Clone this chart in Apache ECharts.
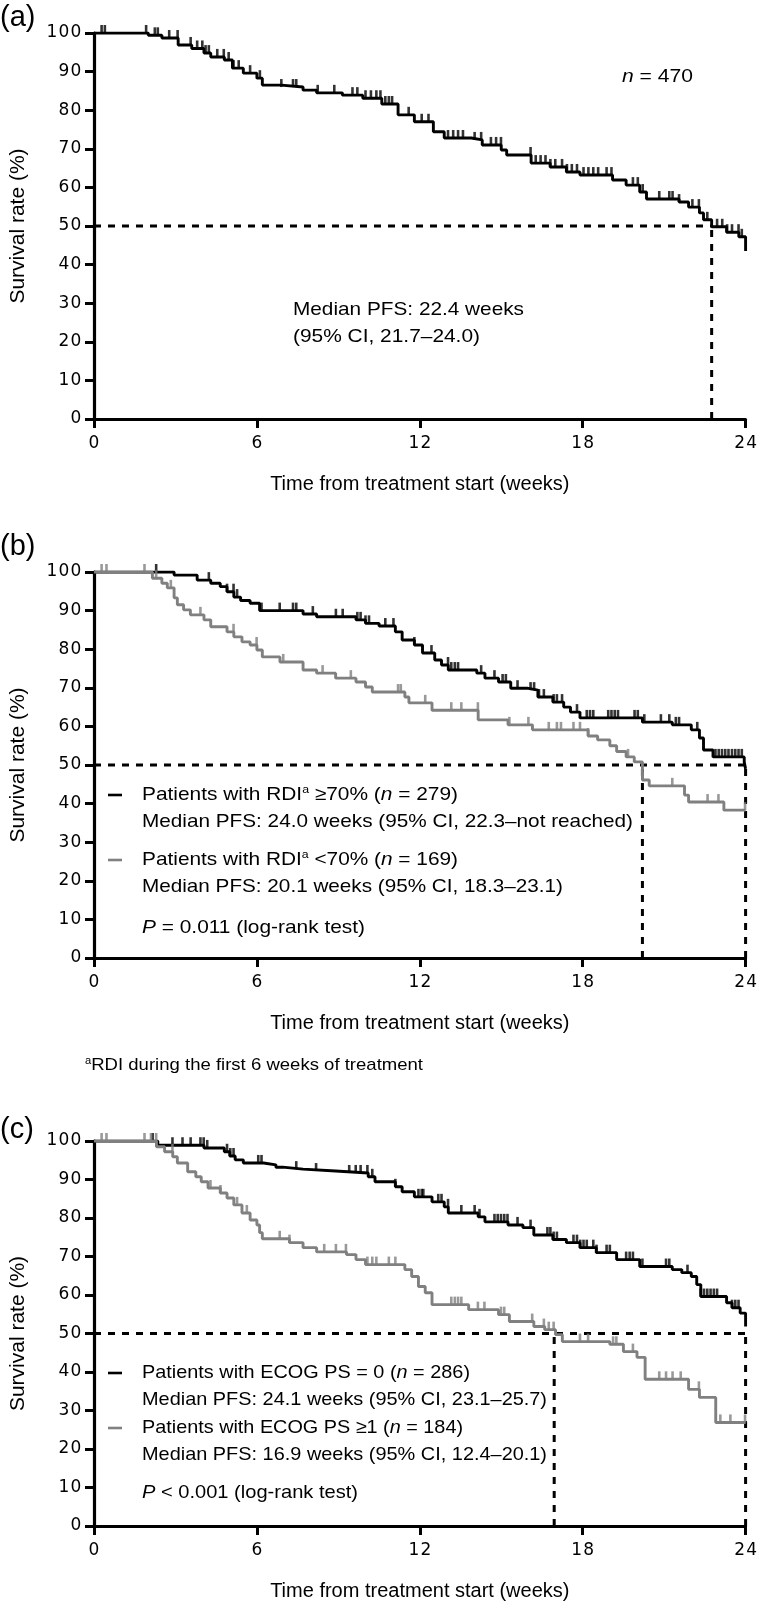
<!DOCTYPE html>
<html>
<head>
<meta charset="utf-8">
<script src="https://cdn.jsdelivr.net/npm/echarts@6/dist/echarts.min.js"></script>
<style>
html,body{margin:0;padding:0;background:#fff;}
#chart{width:760px;height:1602px;}
</style>
</head>
<body>
<div id="chart"></div>
<script>
// ---------- DATA ----------
const xTicks = [0, 6, 12, 18, 24];
const yTicks = [0, 10, 20, 30, 40, 50, 60, 70, 80, 90, 100];

// Panel (a): all patients
const timesA = [0, 2.0, 2.5, 3.1, 3.6, 4.05, 4.3, 4.8, 5.1, 5.5, 6.0, 6.2, 6.9, 7.7, 8.2, 9.15, 9.9, 10.6, 11.2, 11.8, 12.5, 12.9, 13.9, 14.3, 15.0, 15.2, 16.1, 16.8, 17.4, 17.9, 19.1, 19.6, 20.1, 20.35, 21.55, 21.9, 22.3, 22.45, 22.75, 23.3, 23.75, 24.0];
const survA  = [100, 99.4, 98.7, 96.9, 96.0, 94.8, 93.8, 93.0, 90.9, 89.6, 88.3, 86.5, 86.0, 85.2, 84.5, 83.9, 83.1, 81.6, 78.8, 77.0, 74.4, 72.8, 72.3, 71.0, 69.7, 68.4, 66.3, 65.3, 64.0, 63.2, 61.9, 60.6, 58.8, 57.0, 56.2, 54.9, 53.4, 51.6, 49.8, 48.4, 47.2, 43.5];
const censorA = [0.28, 0.4, 1.92, 2.24, 2.35, 2.77, 3.08, 3.56, 3.8, 3.99, 4.11, 4.23, 4.54, 4.78, 4.96, 5.14, 5.33, 5.75, 6.11, 6.9, 7.33, 7.45, 8.24, 8.85, 9.52, 9.7, 10.0, 10.2, 10.4, 10.55, 10.73, 10.86, 10.98, 11.59, 12.07, 12.32, 13.04, 13.23, 13.41, 13.59, 14.02, 14.26, 14.62, 14.81, 14.99, 16.08, 16.27, 16.45, 16.63, 16.81, 16.99, 17.24, 17.42, 17.6, 17.79, 18.03, 18.21, 18.39, 18.57, 18.88, 19.06, 19.85, 20.03, 20.21, 20.82, 21.19, 21.31, 21.55, 22.04, 22.28, 22.59, 22.95, 23.14, 23.32, 23.5, 23.74, 23.86];
const medianA = 22.75;

// Panel (b): RDI >=70% (black) and <70% (gray)
const timesB1 = [0, 2.95, 3.8, 4.3, 4.65, 4.9, 5.15, 5.4, 5.75, 6.1, 7.7, 8.2, 9.65, 10.0, 10.5, 11.1, 11.35, 11.8, 12.1, 12.55, 12.8, 13.05, 14.1, 14.4, 14.9, 15.35, 15.95, 16.35, 16.9, 17.3, 17.55, 17.9, 20.2, 21.3, 22.0, 22.3, 22.45, 22.8, 23.95, 24.0];
const survB1  = [100, 99.2, 97.9, 97.1, 96.2, 94.9, 93.5, 92.6, 91.9, 90.0, 89.1, 88.4, 87.6, 86.7, 86.0, 84.5, 82.4, 81.1, 79.0, 77.2, 75.9, 74.6, 73.8, 72.5, 71.5, 69.9, 69.4, 67.6, 66.3, 65.0, 63.7, 62.2, 61.1, 60.4, 59.1, 57.0, 53.9, 52.1, 50.8, 49.0];
const censorB1 = [2.29, 4.23, 4.9, 5.14, 5.27, 6.17, 6.84, 7.33, 7.45, 8.06, 8.91, 9.16, 9.7, 9.82, 10.0, 10.13, 10.73, 11.03, 11.8, 12.43, 13.04, 13.16, 13.29, 13.41, 14.26, 14.75, 15.05, 15.17, 15.6, 16.08, 16.21, 16.39, 16.57, 16.93, 17.05, 17.24, 17.79, 18.15, 18.27, 18.39, 18.94, 19.06, 19.18, 19.3, 19.91, 20.03, 20.27, 20.88, 21.19, 21.43, 21.55, 22.22, 22.89, 23.01, 23.13, 23.25, 23.37, 23.5, 23.62, 23.74, 23.86];
const timesB2 = [0, 2.15, 2.5, 2.7, 2.95, 3.07, 3.3, 3.55, 4.05, 4.3, 4.9, 5.15, 5.45, 5.75, 6.0, 6.2, 6.85, 7.7, 8.2, 8.9, 9.65, 10.0, 10.25, 11.45, 11.6, 12.45, 14.15, 15.25, 16.15, 18.2, 18.55, 19.0, 19.25, 19.6, 19.9, 20.2, 20.45, 21.75, 21.9, 23.2, 24.0];
const survB2  = [100, 98.4, 97.1, 95.9, 93.3, 91.5, 90.2, 88.9, 87.6, 85.8, 84.5, 83.2, 81.9, 81.1, 79.8, 78.0, 76.7, 74.6, 73.8, 72.5, 71.5, 70.2, 68.9, 67.6, 66.1, 64.2, 61.7, 60.4, 59.1, 57.5, 56.5, 55.0, 53.5, 52.1, 50.8, 46.1, 44.6, 42.2, 40.4, 38.3, 38.3];
const censorB2 = [0.28, 0.46, 1.86, 2.29, 2.83, 3.92, 5.14, 5.99, 6.97, 8.42, 9.46, 11.2, 11.3, 12.2, 13.16, 13.53, 14.14, 15.3, 16.0, 16.75, 17.05, 17.2, 17.66, 17.9, 18.2, 19.67, 20.21, 21.3, 22.6, 23.0, 23.98];
const medianB1 = 24.0;
const medianB2 = 20.2;

// Panel (c): ECOG PS = 0 (black) and >=1 (gray)
const timesC1 = [0, 2.35, 4.05, 4.8, 5.0, 5.2, 5.5, 6.25, 6.7, 6.95, 7.7, 8.9, 10.1, 10.35, 11.1, 11.35, 11.8, 12.45, 12.9, 13.05, 14.15, 14.4, 15.25, 15.8, 16.2, 16.9, 17.4, 17.9, 18.5, 19.25, 20.1, 21.3, 21.65, 22.0, 22.2, 22.35, 23.3, 23.5, 23.8, 24.0];
const survC1  = [100, 98.9, 98.2, 97.2, 96.1, 95.1, 94.3, 93.8, 93.2, 92.7, 92.2, 91.7, 90.7, 89.4, 88.1, 86.8, 85.5, 84.2, 82.9, 81.3, 80.3, 79.0, 78.2, 77.5, 75.6, 74.4, 73.6, 72.3, 71.0, 69.2, 67.4, 66.6, 65.8, 64.8, 62.7, 59.6, 58.0, 56.7, 55.3, 51.8];
const censorC1 = [2.16, 2.89, 3.26, 3.56, 3.92, 4.04, 4.17, 4.9, 5.02, 5.14, 6.05, 6.17, 7.45, 8.18, 9.4, 9.64, 9.82, 10.07, 10.25, 11.1, 11.95, 12.07, 12.13, 12.68, 12.8, 13.04, 13.53, 14.02, 14.2, 14.75, 14.87, 14.99, 15.11, 15.23, 15.6, 16.08, 16.7, 16.81, 16.93, 17.05, 17.66, 17.79, 17.91, 18.03, 18.15, 18.39, 18.51, 18.88, 19.0, 19.6, 19.73, 19.85, 20.2, 21.07, 21.19, 21.86, 22.35, 22.47, 22.59, 22.71, 22.83, 22.95, 23.5, 23.62, 23.74];
const timesC2 = [0, 2.3, 2.6, 2.9, 3.07, 3.45, 3.75, 3.95, 4.2, 4.65, 4.9, 5.15, 5.45, 5.75, 6.0, 6.1, 6.2, 7.2, 7.7, 8.2, 9.3, 9.65, 10.0, 11.45, 11.7, 11.95, 12.2, 12.45, 13.8, 14.9, 15.3, 16.2, 16.6, 17.0, 17.25, 19.0, 19.5, 20.0, 20.3, 21.9, 22.3, 22.9, 24.0];
const survC2  = [100, 98.5, 97.2, 95.9, 94.3, 92.0, 90.7, 89.4, 87.8, 86.5, 85.2, 83.4, 81.3, 79.5, 78.2, 76.2, 74.6, 73.6, 72.3, 71.2, 70.5, 69.2, 67.9, 66.6, 64.8, 62.2, 60.6, 57.5, 56.2, 54.9, 53.1, 51.8, 51.0, 49.7, 47.9, 47.2, 45.3, 43.8, 38.1, 35.5, 33.4, 26.9, 26.9];
const censorC2 = [0.28, 0.46, 1.86, 2.1, 2.29, 2.89, 4.29, 4.66, 5.27, 5.63, 6.84, 7.2, 8.48, 8.91, 9.28, 10.07, 10.25, 10.4, 10.86, 11.1, 13.16, 13.29, 13.41, 13.53, 14.14, 14.38, 14.99, 15.11, 16.14, 16.57, 16.75, 16.93, 17.9, 18.2, 19.12, 19.24, 19.85, 20.82, 21.07, 21.31, 21.61, 22.28, 23.07, 23.44, 23.98];
const medianC1 = 24.0;
const medianC2 = 16.95;

// ---------- CHART ----------
const FONT = '"Liberation Sans", Arial, Helvetica, sans-serif';
const TICKFONT = '"DejaVu Sans", "Liberation Sans", sans-serif';
const BLACK = '#000000';
const GRAY = '#808080';
const grids = [
  {left: 89, right: 13, top: 33, height: 386},
  {left: 89, right: 13, top: 572, height: 386},
  {left: 89, right: 13, top: 1141, height: 386}
];

function tickFormatter(list) {
  return v => list.indexOf(v) >= 0 ? String(v).split('').map(c => '{d|' + c + '}').join('') : '';
}
const tickRich = {d: {fontFamily: TICKFONT, fontSize: 17, color: BLACK, width: 12, align: 'center'}};

function xAxisFor(i) {
  return {
    type: 'value', gridIndex: i, min: 0, max: 24, interval: 6,
    name: 'Time from treatment start (weeks)', nameLocation: 'middle', nameGap: 55,
    nameTextStyle: {fontFamily: FONT, fontSize: 20, color: BLACK},
    axisLine: {show: true, onZero: false, lineStyle: {color: BLACK, width: 3}},
    axisTick: {show: true, inside: false, length: 9, lineStyle: {color: BLACK, width: 3}},
    axisLabel: {fontFamily: TICKFONT, fontSize: 17, color: BLACK, margin: 16,
      formatter: tickFormatter(xTicks), rich: tickRich},
    splitLine: {show: false}
  };
}
function yAxisFor(i) {
  return {
    type: 'value', gridIndex: i, min: 0, max: 100, interval: 10,
    name: 'Survival rate (%)', nameLocation: 'middle', nameGap: 65,
    nameTextStyle: {fontFamily: FONT, fontSize: 21, color: BLACK},
    axisLine: {show: true, onZero: false, lineStyle: {color: BLACK, width: 3.2}},
    axisTick: {show: true, inside: false, length: 9, lineStyle: {color: BLACK, width: 3}},
    axisLabel: {fontFamily: TICKFONT, fontSize: 17, color: BLACK, margin: 12,
      formatter: tickFormatter(yTicks), rich: tickRich},
    splitLine: {show: false}
  };
}

function stepAt(times, surv, t) {
  let v = surv[0];
  for (let i = 0; i < times.length; i++) { if (times[i] <= t) v = surv[i]; }
  return v;
}
function curve(i, times, surv, color, z) {
  return {
    type: 'line', xAxisIndex: i, yAxisIndex: i, step: 'end', showSymbol: false, symbol: 'none',
    data: times.map((t, k) => [t, surv[k]]), z: z,
    lineStyle: {color: color, width: 2.9}, silent: true, animation: false
  };
}
function censor(i, cens, times, surv, color, z) {
  return {
    type: 'scatter', xAxisIndex: i, yAxisIndex: i, symbol: 'rect', symbolSize: [2.6, 8],
    symbolOffset: [0, -4], z: z,
    itemStyle: {color: color}, silent: true, animation: false,
    data: cens.map(t => [t, stepAt(times, surv, t)])
  };
}
function dashed(i, pts) {
  return {
    type: 'line', xAxisIndex: i, yAxisIndex: i, showSymbol: false, symbol: 'none',
    data: pts, z: 1, silent: true, animation: false,
    lineStyle: {color: BLACK, width: 3, type: [7, 7]}
  };
}

const series = [
  // (a)
  dashed(0, [[0, 50], [medianA, 50]]),
  dashed(0, [[medianA, 0], [medianA, 50]]),
  curve(0, timesA, survA, BLACK, 3),
  censor(0, censorA, timesA, survA, BLACK, 3),
  // (b)
  dashed(1, [[0, 50], [medianB1, 50]]),
  dashed(1, [[medianB2, 0], [medianB2, 50]]),
  dashed(1, [[medianB1, 0], [medianB1, 50]]),
  curve(1, timesB1, survB1, BLACK, 3),
  censor(1, censorB1, timesB1, survB1, BLACK, 3),
  curve(1, timesB2, survB2, GRAY, 4),
  censor(1, censorB2, timesB2, survB2, GRAY, 4),
  // (c)
  dashed(2, [[0, 50], [medianC1, 50]]),
  dashed(2, [[medianC2, 0], [medianC2, 50]]),
  dashed(2, [[medianC1, 0], [medianC1, 50]]),
  curve(2, timesC1, survC1, BLACK, 3),
  censor(2, censorC1, timesC1, survC1, BLACK, 3),
  curve(2, timesC2, survC2, GRAY, 4),
  censor(2, censorC2, timesC2, survC2, GRAY, 4)
];

// ---------- TEXT (graphic) ----------
const TXT = 18.6;
const RICH = {
  t: {fontFamily: FONT, fontSize: TXT, color: BLACK},
  i: {fontFamily: FONT, fontSize: TXT, color: BLACK, fontStyle: 'italic'},
  s: {fontFamily: FONT, fontSize: 11, color: BLACK, verticalAlign: 'top', padding: [0, 0, 10, 0]},
  f: {fontFamily: FONT, fontSize: 16.6, color: BLACK},
  s2: {fontFamily: FONT, fontSize: 10, color: BLACK, verticalAlign: 'top', padding: [0, 0, 8, 0]}
};
const measureCtx = document.createElement('canvas').getContext('2d');
function richWidth(str) {
  let w = 0;
  str.replace(/\{(\w+)\|([^}]*)\}/g, function (m, s, t) {
    const st = RICH[s];
    measureCtx.font = (st.fontStyle || 'normal') + ' ' + st.fontSize + 'px ' + st.fontFamily;
    w += measureCtx.measureText(t).width;
    return m;
  });
  return w;
}
// text placed at (x, y) and horizontally fitted so that it ends at xEnd (as in the original figure)
function txt(x, y, text, xEnd) {
  const sx = xEnd ? (xEnd - x) / richWidth(text) : 1;
  return {
    type: 'text', x: x, y: y, scaleX: sx, originX: 0, z: 10,
    style: {
      text: text, fill: BLACK, font: TXT + 'px ' + FONT,
      textVerticalAlign: 'middle', verticalAlign: 'middle', rich: RICH
    }
  };
}
function label(x, y, text) {
  return {type: 'text', x: x, y: y, z: 10,
    style: {text: text, fill: BLACK, font: '29px ' + FONT, textVerticalAlign: 'middle', verticalAlign: 'middle'}};
}
function legLine(x, y, color) {
  return {type: 'line', z: 10, shape: {x1: x, y1: y, x2: x + 14, y2: y},
    style: {stroke: color, lineWidth: 2.6}};
}

const graphic = [
  label(0, 18, '(a)'),
  label(0, 547, '(b)'),
  label(0, 1130, '(c)'),
  // (a)
  txt(622, 77, '{i|n}{t| = 470}', 693),
  txt(293, 310, '{t|Median PFS: 22.4 weeks}', 524),
  txt(293, 337, '{t|(95% CI, 21.7–24.0)}', 480),
  // (b)
  legLine(108, 795, BLACK),
  txt(142, 795, '{t|Patients with RDI}{s|a}{t| ≥70% (}{i|n}{t| = 279)}', 458),
  txt(142, 822, '{t|Median PFS: 24.0 weeks (95% CI, 22.3–not reached)}', 633),
  legLine(108, 860, GRAY),
  txt(142, 860, '{t|Patients with RDI}{s|a}{t| <70% (}{i|n}{t| = 169)}', 458),
  txt(142, 887, '{t|Median PFS: 20.1 weeks (95% CI, 18.3–23.1)}', 563),
  txt(142, 928, '{i|P}{t| = 0.011 (log-rank test)}', 365),
  txt(85, 1065, '{s2|a}{f|RDI during the first 6 weeks of treatment}', 423),
  // (c)
  legLine(108, 1373, BLACK),
  txt(142, 1373, '{t|Patients with ECOG PS = 0 (}{i|n}{t| = 286)}', 470),
  txt(142, 1400, '{t|Median PFS: 24.1 weeks (95% CI, 23.1–25.7)}', 547),
  legLine(108, 1428, GRAY),
  txt(142, 1428, '{t|Patients with ECOG PS ≥1 (}{i|n}{t| = 184)}', 463),
  txt(142, 1455, '{t|Median PFS: 16.9 weeks (95% CI, 12.4–20.1)}', 547),
  txt(142, 1493, '{i|P}{t| < 0.001 (log-rank test)}', 358)
];

const chart = echarts.init(document.getElementById('chart'), null, {renderer: 'canvas'});
chart.setOption({
  animation: false,
  backgroundColor: '#ffffff',
  grid: grids,
  xAxis: [xAxisFor(0), xAxisFor(1), xAxisFor(2)],
  yAxis: [yAxisFor(0), yAxisFor(1), yAxisFor(2)],
  series: series,
  graphic: graphic
});
</script>
</body>
</html>
